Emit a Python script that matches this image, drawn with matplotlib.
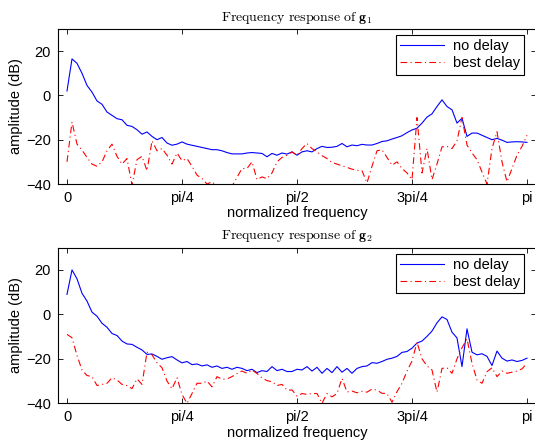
import numpy as np
import matplotlib
matplotlib.use("Agg")
import matplotlib.pyplot as plt

plt.rcParams.update(
    {
        "font.family": ["Liberation Sans", "DejaVu Sans"],
        "mathtext.fontset": "cm",
        "xtick.direction": "in",
        "ytick.direction": "in",
        "xtick.top": True,
        "ytick.right": True,
        "axes.linewidth": 0.8,
    }
)

# frequency grid (fraction of pi), 93 samples from 0 to pi
n_pts = 93

g1_no_delay = [
    2, 16.5, 14.5, 10, 4.5, 1.5, -2.5, -4, -7.5, -9,
    -10.5, -11, -13.5, -14, -15.5, -17.5, -16.5, -18.5, -20, -19,
    -21.5, -22.5, -22, -21, -22, -22.5, -23, -23.5, -24, -24.5,
    -24.5, -25, -25.8, -26.4, -26.4, -26.4, -26, -25.8, -26, -26.2,
    -27.7, -26.2, -27, -26, -26.5, -25.5, -27, -25.5, -25, -25.5,
    -24, -23, -23.5, -23.4, -23, -21.7, -23.2, -22.4, -22.7, -22.1,
    -22.4, -22.4, -21.7, -20.8, -20.5, -19.7, -19, -18.2, -16.8, -15.6,
    -14.8, -12.5, -9.8, -8.3, -5, -2, -5, -6.5, -12.5, -10.3,
    -18.5, -17, -17, -18, -19, -20, -19.4, -20.2, -21.2, -21,
    -20.9, -21, -21.2,
]
g1_best_delay = [
    -30, -12, -22, -24.7, -28, -31, -32, -30, -25, -22,
    -27.5, -31, -28.5, -40.5, -29, -27.5, -34, -20.5, -25, -24,
    -27, -31, -26, -29.5, -28.5, -32, -36, -37.5, -40, -39,
    -41, -42, -42.5, -41, -37, -33, -33, -30, -38, -36.8,
    -37.6, -35, -30, -28, -27, -25.5, -27, -24, -21.7, -24,
    -25.5, -27.2, -28.5, -30.3, -31, -31.8, -32.5, -33.3, -33.8, -34,
    -39.5, -32, -25, -24.5, -28, -31.5, -30, -33, -35, -38,
    -10, -35, -24, -38, -31, -23.2, -23, -24, -20.5, -10,
    -22.4, -26, -29, -34.6, -40, -24, -16.4, -30, -39, -33,
    -27, -23, -18,
]
g2_no_delay = [
    9, 20, 16, 9.5, 6, 1, -0.8, -4, -5.8, -8.6,
    -9.5, -12, -13.3, -13.5, -14.8, -16, -18, -17.8, -18.9, -20.2,
    -19.5, -19, -20.5, -21.8, -21.2, -22.6, -22.3, -23.2, -22.7, -23.8,
    -23.2, -24.3, -23.8, -24.7, -23.8, -24.3, -25.3, -24.7, -26.2, -25.3,
    -25.7, -23.5, -25.3, -24.7, -25.7, -25.7, -24.7, -25, -23.5, -25.5,
    -23.8, -26.5, -24.3, -26.2, -23.5, -26, -24.3, -26.5, -24.3, -23.5,
    -23.2, -21.7, -22, -21.2, -20.2, -19.7, -18.9, -17.1, -16.7, -15.2,
    -12.9, -12, -9.9, -7.5, -3.8, -1.1, -2.3, -8, -10.6, -23.5,
    -6.5, -17, -18.2, -17.7, -18.9, -23, -16.5, -19.7, -21, -20.5,
    -21.2, -20.7, -19.7,
]
g2_best_delay = [
    -9, -10.5, -18.5, -25, -27.5, -28, -32, -31.5, -31, -28.5,
    -29.5, -31.5, -32, -33.4, -29, -31.5, -17, -18.2, -21.8, -24,
    -30, -33.5, -28.5, -36, -40, -35.6, -31, -31, -30, -32.6,
    -28, -29.2, -29, -28, -26.6, -25.5, -26.5, -25, -26.6, -28.6,
    -29.8, -30.3, -32, -31.5, -34.1, -34, -36.8, -35.6, -36, -35.6,
    -35.6, -40, -35.6, -37.1, -35.6, -28.8, -34.9, -34.5, -35.3, -34.6,
    -35, -33.6, -34.1, -35.5, -35.6, -39.5, -34.8, -31, -25.5, -21,
    -12.5, -20, -23.2, -25, -35, -24.3, -24, -26.5, -20, -15,
    -11, -22, -29.5, -31, -25.8, -24, -28, -25.5, -26.5, -26,
    -25.5, -24.5, -22,
]

xtick_pos = [0, np.pi / 4, np.pi / 2, 3 * np.pi / 4, np.pi]
xtick_labels = ["0", "pi/4", "pi/2", "3pi/4", "pi"]
ytick_pos = [-40, -20, 0, 20]

freq = np.linspace(0, np.pi, n_pts)

fig = plt.figure(figsize=(5.35, 4.46), dpi=100)
ax1 = fig.add_axes([58 / 535, (446 - 184) / 446, 478 / 535, 155 / 446])
ax2 = fig.add_axes([58 / 535, (446 - 403.3) / 446, 478 / 535, 155.6 / 446])

panels = [
    (ax1, g1_no_delay, g1_best_delay, r"$\mathrm{Frequency\ response\ of\ }\mathbf{g}_1$"),
    (ax2, g2_no_delay, g2_best_delay, r"$\mathrm{Frequency\ response\ of\ }\mathbf{g}_2$"),
]

for ax, nd, bd, title in panels:
    ax.plot(freq, nd, "-", color="blue", lw=0.8, label="no delay")
    ax.plot(freq, bd, color="red", lw=0.8, linestyle=(0, (6, 3, 1, 3)),
            label="best delay")
    ax.set_xlim(-9 / 460 * np.pi, 469 / 460 * np.pi)
    ax.set_ylim(-40, 30)
    ax.set_xticks(xtick_pos)
    ax.set_xticklabels(xtick_labels)
    ax.set_yticks(ytick_pos)
    ax.tick_params(labelsize=10.5, length=3.5, width=0.6, pad=5)
    ax.set_xlabel("normalized frequency", fontsize=10.5, labelpad=1)
    ax.set_ylabel("amplitude (dB)", fontsize=10.5, labelpad=2)
    ax.set_title(title, fontsize=10, pad=6)
    leg = ax.legend(loc="upper right", bbox_to_anchor=(0.975, 0.961),
                    borderaxespad=0, fontsize=10.5, handlelength=3.0,
                    fancybox=False, framealpha=1, edgecolor="black",
                    borderpad=0.3, labelspacing=0.2, handletextpad=0.6)
    leg.get_frame().set_linewidth(0.8)

fig.savefig("out.png", dpi=100)
